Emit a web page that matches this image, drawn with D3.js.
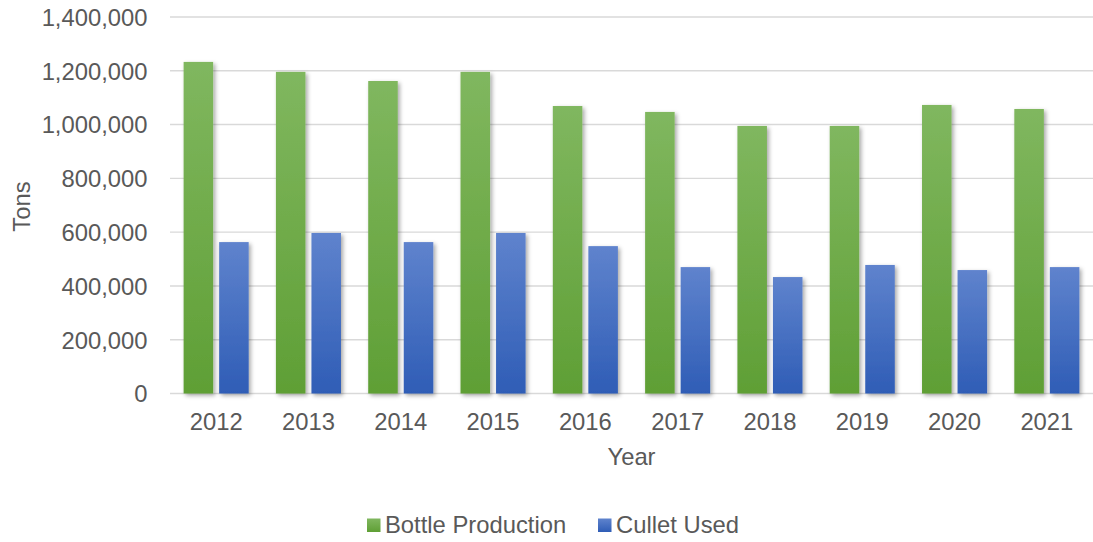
<!DOCTYPE html>
<html><head><meta charset="utf-8">
<script src="https://cdn.jsdelivr.net/npm/d3@7/dist/d3.min.js"></script>
<style>body{margin:0;background:#fff}svg{display:block}text{font-family:"Liberation Sans",Arial,sans-serif;fill:#595959}</style>
</head><body><svg id="c" width="1093" height="542"></svg>
<script>
const years = ["2012","2013","2014","2015","2016","2017","2018","2019","2020","2021"];
const bottleProduction = [1233000,1196000,1162000,1196000,1069000,1047000,995000,995000,1073000,1058000];
const culletUsed = [563000,597000,563000,597000,548000,470000,433000,478000,459000,470000];
const seriesNames = ["Bottle Production","Cullet Used"];
const yTicks = [0,200000,400000,600000,800000,1000000,1200000,1400000];

const FS = "23.8px";
const svg = d3.select("#c");
const L=170, R=1093, T=17, B=393.5;
const x = d3.scaleBand().domain(years).range([L,R]).paddingInner(0).paddingOuter(0);
const y = d3.scaleLinear().domain([0,1400000]).range([B,T]);

const defs = svg.append("defs");
function grad(id, top, bot){
  const g = defs.append("linearGradient").attr("id",id).attr("x1",0).attr("y1",0).attr("x2",0).attr("y2",1);
  g.append("stop").attr("offset","0%").attr("stop-color",top);
  g.append("stop").attr("offset","100%").attr("stop-color",bot);
}
grad("gG","#80b75f","#5f9f35");
grad("gB","#5f83cd","#2f5db6");
const f = defs.append("filter").attr("id","sh").attr("x","-30%").attr("y","-10%").attr("width","160%").attr("height","120%");
f.append("feDropShadow").attr("dx",2).attr("dy",2).attr("stdDeviation",2.2).attr("flood-color","#000").attr("flood-opacity",0.35);

// gridlines
svg.append("g").selectAll("line").data(yTicks).join("line")
  .attr("x1",L).attr("x2",R).attr("y1",d=>y(d)).attr("y2",d=>y(d))
  .attr("stroke","#d9d9d9").attr("stroke-width",1.4);

// y axis labels
const yAxis = d3.axisLeft(y).tickValues(yTicks).tickSize(0).tickPadding(0).tickFormat(d3.format(","));
const ya = svg.append("g").attr("transform",`translate(147.5,0)`).call(yAxis);
ya.select(".domain").remove();
ya.selectAll("text").style("font-size",FS).attr("fill","#595959").attr("dy","0.35em");

// bars
const bw = x.bandwidth()*0.32, gap = x.bandwidth()*0.065;
const data = years.map((yr,i)=>({yr, v:[bottleProduction[i],culletUsed[i]]}));
const fills=["url(#gG)","url(#gB)"];
[0,1].forEach(s=>{
  svg.append("g").attr("filter","url(#sh)").selectAll("rect").data(data).join("rect")
    .attr("x",d=>x(d.yr)+x.bandwidth()/2 + (s===0? -gap/2-bw : gap/2))
    .attr("width",bw)
    .attr("y",d=>y(d.v[s])).attr("height",d=>B-y(d.v[s]))
    .attr("fill",fills[s]);
});

// x axis
const xAxis = d3.axisBottom(x).tickSize(0).tickPadding(0);
const xa = svg.append("g").attr("transform",`translate(0,${B})`).call(xAxis);
xa.select(".domain").remove();
xa.selectAll("text").style("font-size",FS).attr("fill","#595959").attr("y",36.5).attr("dy",0);

// axis titles
svg.append("text").attr("x",(L+R)/2).attr("y",464.5).attr("text-anchor","middle").style("font-size",FS).text("Year");
svg.append("text").attr("transform","translate(30,206.5) rotate(-90)").attr("text-anchor","middle").style("font-size",FS).text("Tons");

// legend
const lg = svg.append("g");
const legendItems = [{n:seriesNames[0],x:367},{n:seriesNames[1],x:598}];
legendItems.forEach((it,i)=>{
  lg.append("rect").attr("x",it.x).attr("y",518.5).attr("width",13.5).attr("height",13.5).attr("fill",i===0?"url(#gG)":"url(#gB)");
  lg.append("text").attr("x",it.x+18).attr("y",533).style("font-size",FS).text(it.n);
});
</script></body></html>
